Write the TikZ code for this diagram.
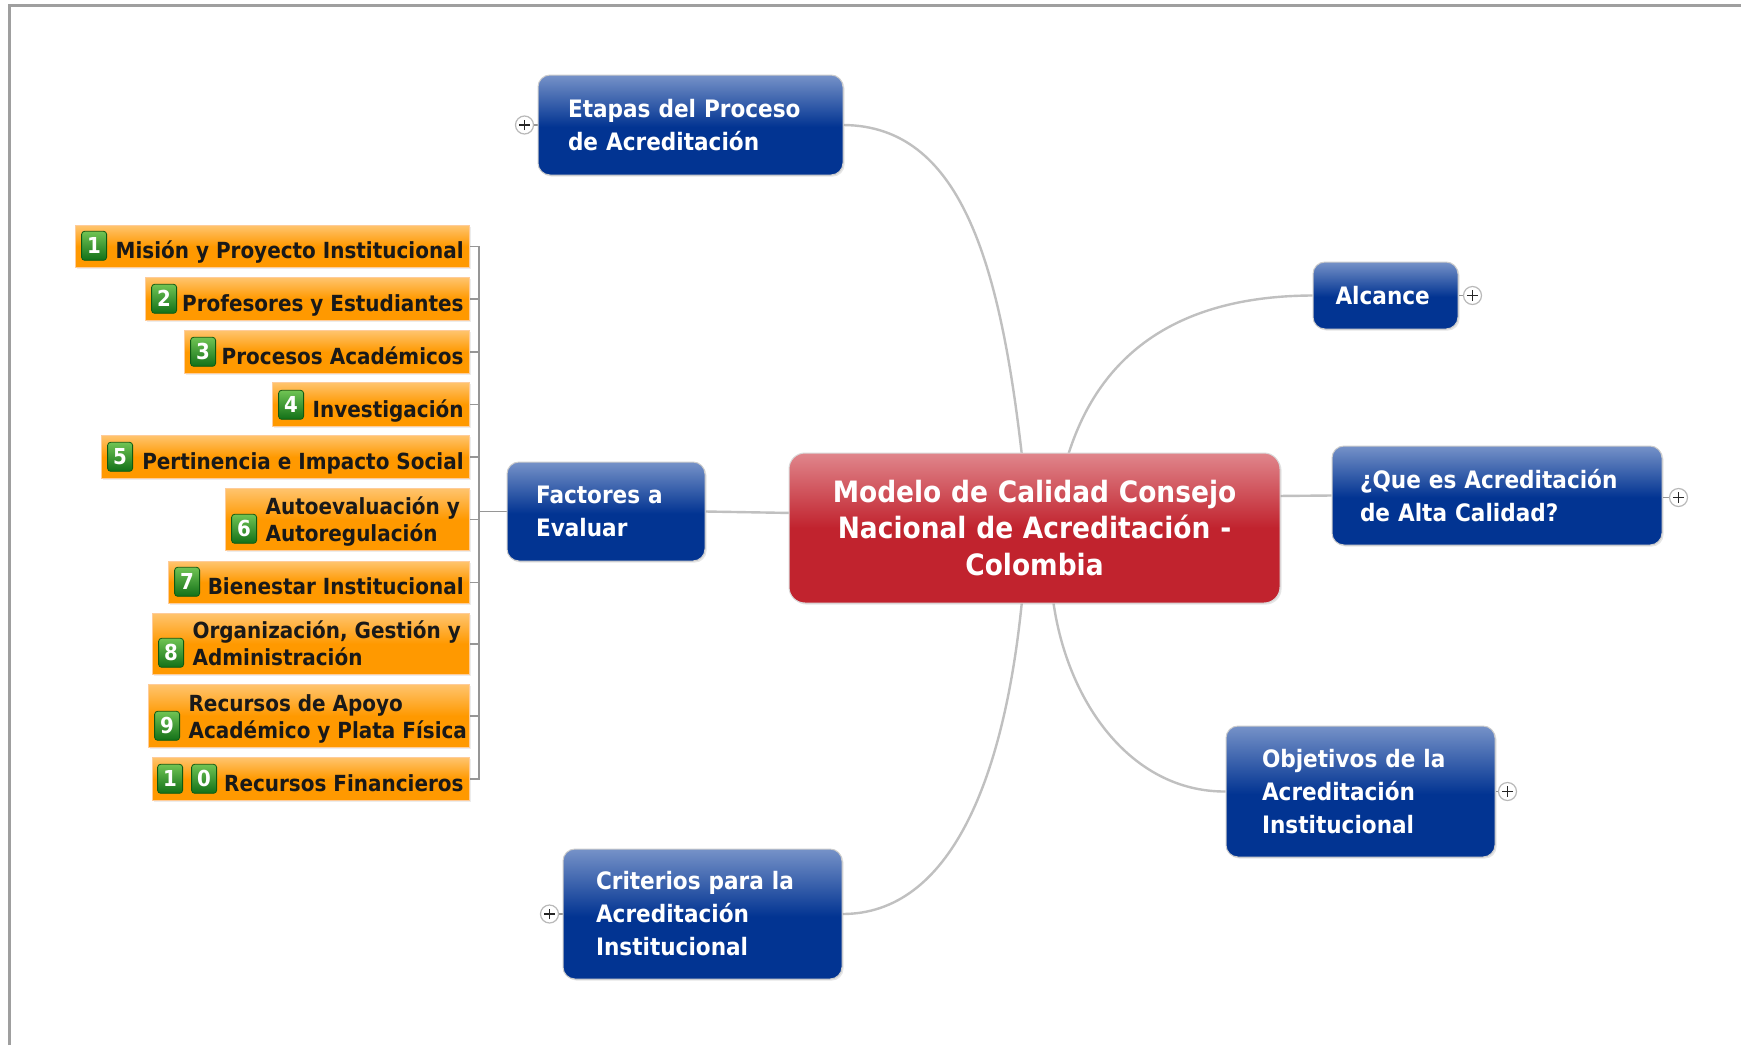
\documentclass[tikz,border=0pt]{standalone}
\usepackage{fontspec}
\setmainfont{DejaVu Sans}[FakeStretch=0.9]
\usetikzlibrary{backgrounds,calc,shadows}

\definecolor{bdark}{RGB}{2,52,146}
\definecolor{blight}{RGB}{118,146,200}
\definecolor{rdark}{RGB}{193,35,46}
\definecolor{rlight}{RGB}{224,134,140}
\definecolor{odark}{RGB}{255,153,0}
\definecolor{olight}{RGB}{255,196,110}
\definecolor{gdark}{RGB}{18,112,24}
\definecolor{glight}{RGB}{112,196,84}
\definecolor{linkc}{RGB}{192,192,192}
\definecolor{brackc}{RGB}{150,150,150}

\pgfdeclareverticalshading{blueshade}{100bp}{color(0bp)=(bdark); color(49bp)=(bdark); color(75bp)=(blight); color(100bp)=(blight)}
\pgfdeclareverticalshading{redshade}{100bp}{color(0bp)=(rdark); color(50bp)=(rdark); color(75bp)=(rlight); color(100bp)=(rlight)}
\pgfdeclareverticalshading{orangeshade}{100bp}{color(0bp)=(odark); color(50bp)=(odark); color(75bp)=(olight); color(100bp)=(olight)}
\pgfdeclareverticalshading{greenshade}{100bp}{color(0bp)=(gdark); color(25bp)=(gdark); color(75bp)=(glight); color(100bp)=(glight)}

\begin{document}
\begin{tikzpicture}[x=0.5pt,y=-0.5pt,
  bluebox/.style={rectangle, rounded corners=6pt, shading=blueshade, draw=gray!40, line width=0.5pt,
    text=white, font=\fontsize{12}{16.5}\selectfont\bfseries, align=left, inner ysep=0pt,
    drop shadow={opacity=0.2, shadow xshift=0.8pt, shadow yshift=-0.8pt}},
  redbox/.style={rectangle, rounded corners=8pt, shading=redshade, draw=gray!30, line width=0.5pt,
    text=white, font=\fontsize{14.7}{18.3}\selectfont\bfseries, align=center, inner ysep=0pt,
    drop shadow={opacity=0.2, shadow xshift=0.8pt, shadow yshift=-0.8pt}},
  obox/.style={rectangle, shading=orangeshade, draw=orange!40, line width=0.4pt, inner sep=0pt, anchor=north east,
    drop shadow={opacity=0.15, shadow xshift=0.6pt, shadow yshift=-0.6pt}},
  otext/.style={inner sep=0pt, text=black!90, font=\fontsize{11.1}{13.8}\selectfont\bfseries},
  badge/.style={rectangle, rounded corners=1.5pt, shading=greenshade, draw=gdark!80!black, line width=0.4pt,
    minimum width=12.5pt, minimum height=14.5pt, inner sep=0pt, anchor=west,
    text=white, font=\fontsize{11}{11}\selectfont\bfseries},
  expander/.style={circle, draw=gray!55, fill=white, line width=0.6pt, minimum size=9pt, inner sep=0pt,
    path picture={
      \draw[line width=0.9pt,black!85] ([xshift=-2.6pt]path picture bounding box.center) -- ([xshift=2.6pt]path picture bounding box.center);
      \draw[line width=0.9pt,black!85] ([yshift=-2.6pt]path picture bounding box.center) -- ([yshift=2.6pt]path picture bounding box.center);}},
  link/.style={draw=linkc, line width=1.2pt},
  bracket/.style={draw=brackc, line width=0.6pt},
  frame/.style={draw=gray!75, line width=1.1pt}
]
\useasboundingbox (0,0) rectangle (1741,1045);

% central topic
\node[redbox, text width=225.5pt, inner xsep=10pt, minimum height=75pt] (center) at (1034.5,528)
  {Modelo de Calidad Consejo\\Nacional de Acreditación -\\Colombia};

% main topics
\node[bluebox, text width=122.5pt, inner xsep=15pt, minimum height=50pt] (etapas) at (690.5,125)
  {Etapas del Proceso\\de Acreditación};
\node[bluebox, text width=50pt, inner xsep=11.25pt, minimum height=33.5pt] (alcance) at (1385.5,295.5)
  {Alcance};
\node[bluebox, text width=137pt, inner xsep=14pt, minimum height=49.5pt] (quees) at (1497,495.5)
  {¿Que es Acreditación\\de Alta Calidad?};
\node[bluebox, text width=98.5pt, inner xsep=18pt, minimum height=65.5pt] (objetivos) at (1360.5,791.5)
  {Objetivos de la\\Acreditación\\Institucional};
\node[bluebox, text width=106.5pt, inner xsep=16.5pt, minimum height=65pt] (criterios) at (702.5,914)
  {Criterios para la\\Acreditación\\Institucional};
\node[bluebox, text width=70pt, inner xsep=14.5pt, minimum height=49.5pt] (factores) at (606,511.5)
  {Factores a\\Evaluar};

% expanders
\node[expander] (xetapas) at ($(etapas.west)+(-13,0)$) {};
\node[expander] (xcriterios) at ($(criterios.west)+(-13,0)$) {};
\node[expander] (xalcance) at ($(alcance.east)+(14,0)$) {};
\node[expander] (xquees) at ($(quees.east)+(16,2)$) {};
\node[expander] (xobjetivos) at ($(objetivos.east)+(12,0)$) {};

% factors
\node[obox, minimum width=197pt, minimum height=21pt] (f1) at (470,225) {};
\node[badge] (b1) at ($(f1.south west)+(6,-22)$) {1};
\node[otext, anchor=base east] (t1) at ($(f1.south east)+(-6,-9)$) {Misión y Proyecto Institucional};

\node[obox, minimum width=162pt, minimum height=21.5pt] (f2) at (470,277) {};
\node[badge] (b2) at ($(f2.south west)+(6,-22)$) {2};
\node[otext, anchor=base east] (t2) at ($(f2.south east)+(-6,-9)$) {Profesores y Estudiantes};

\node[obox, minimum width=142.5pt, minimum height=21.5pt] (f3) at (470,330) {};
\node[badge] (b3) at ($(f3.south west)+(6,-22)$) {3};
\node[otext, anchor=base east] (t3) at ($(f3.south east)+(-6,-9)$) {Procesos Académicos};

\node[obox, minimum width=98.5pt, minimum height=22pt] (f4) at (470,382) {};
\node[badge] (b4) at ($(f4.south west)+(6,-22)$) {4};
\node[otext, anchor=base east] (t4) at ($(f4.south east)+(-6,-9)$) {Investigación};

\node[obox, minimum width=184pt, minimum height=21.5pt] (f5) at (470,435) {};
\node[badge] (b5) at ($(f5.south west)+(6,-22)$) {5};
\node[otext, anchor=base east] (t5) at ($(f5.south east)+(-6,-9)$) {Pertinencia e Impacto Social};

\node[obox, minimum width=122pt, minimum height=31pt] (f6) at (470,488) {};
\node[badge] (b6) at ($(f6.south west)+(6,-22)$) {6};
\node[otext, anchor=base west] (t6) at ($(f6.south west)+(40,-9)$)
  {\begin{tabular}[b]{@{}l@{}}Autoevaluación y\\Autoregulación\end{tabular}};

\node[obox, minimum width=150.5pt, minimum height=21pt] (f7) at (470,561) {};
\node[badge] (b7) at ($(f7.south west)+(6,-22)$) {7};
\node[otext, anchor=base east] (t7) at ($(f7.south east)+(-6,-9)$) {Bienestar Institucional};

\node[obox, minimum width=158.5pt, minimum height=30.5pt] (f8) at (470,613) {};
\node[badge] (b8) at ($(f8.south west)+(6,-22)$) {8};
\node[otext, anchor=base west] (t8) at ($(f8.south west)+(40,-9)$)
  {\begin{tabular}[b]{@{}l@{}}Organización, Gestión y\\Administración\end{tabular}};

\node[obox, minimum width=160.5pt, minimum height=31.5pt] (f9) at (470,684) {};
\node[badge] (b9) at ($(f9.south west)+(6,-22)$) {9};
\node[otext, anchor=base west] (t9) at ($(f9.south west)+(40,-9)$)
  {\begin{tabular}[b]{@{}l@{}}Recursos de Apoyo\\Académico y Plata Física\end{tabular}};

\node[obox, minimum width=158.5pt, minimum height=21.5pt] (f10) at (470,757) {};
\node[badge] (b10) at ($(f10.south west)+(5,-22)$) {1};
\node[badge] (b10b) at ($(f10.south west)+(39,-22)$) {0};
\node[otext, anchor=base east] (t10) at ($(f10.south east)+(-6,-9)$) {Recursos Financieros};

\coordinate (brx) at (479,0);

\begin{scope}[on background layer]
  \fill[white] (0,0) rectangle (1741,1045);
  \draw[frame] (9.5,1045) -- (9.5,5.5) -- (1741,5.5);
  % links from the central topic
  \draw[link] ($(center.north)+(-12,8)$) .. controls (1000,260) and (960,126) .. (etapas.east);
  \draw[link] ($(center.north)+(32,8)$) .. controls (1090,380) and (1150,296) .. (alcance.west);
  \draw[link] ($(center.east)+(-4,-32)$) -- (quees.west);
  \draw[link] ($(center.south)+(18,-8)$) .. controls (1065,700) and (1130,792) .. (objetivos.west);
  \draw[link] ($(center.south)+(-12,-8)$) .. controls (1005,780) and (950,914) .. (criterios.east);
  \draw[link] ($(center.west)+(4,-15)$) -- (factores.east);
  % expander stubs
  \draw[bracket] (xetapas) -- (etapas.west);
  \draw[bracket] (xcriterios) -- (criterios.west);
  \draw[bracket] (xalcance) -- (alcance.east);
  \draw[bracket] (xquees) -- (quees.east |- xquees);
  \draw[bracket] (xobjetivos) -- (objetivos.east);
  % bracket of factors
  \draw[bracket] (factores.west) -- (factores.west -| brx);
  \draw[bracket] (f1.east) -- (f1.east -| brx) -- (f10.east -| brx) -- (f10.east);
  \foreach \i in {2,...,9} { \draw[bracket] (f\i.east) -- (f\i.east -| brx); }
\end{scope}
\end{tikzpicture}
\end{document}
